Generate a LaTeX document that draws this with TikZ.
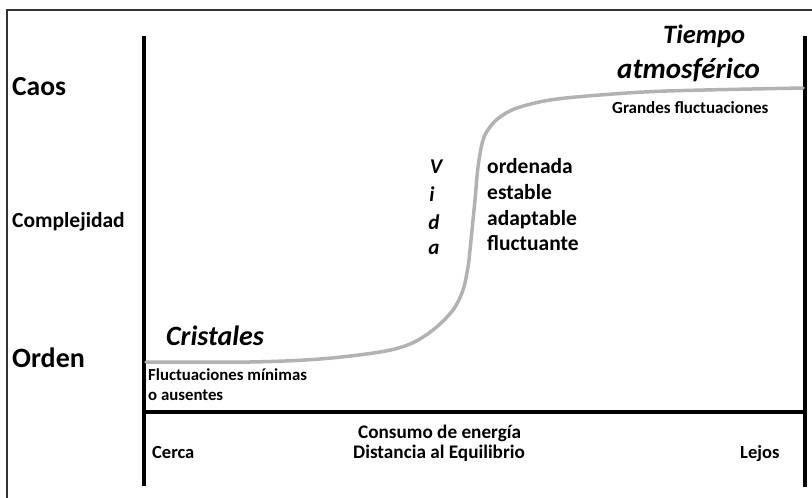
\documentclass[tikz,border=0pt]{standalone}
\usepackage{fontspec}
\setmainfont{Carlito}
\begin{document}
\begin{tikzpicture}[x=1pt,y=-1pt,
  lbl/.style={inner sep=0pt,anchor=base west,font=\bfseries\fontsize{#1}{#1}\selectfont},
  ilbl/.style={inner sep=0pt,anchor=base west,font=\bfseries\itshape\fontsize{#1}{#1}\selectfont},
  axis/.style={line width=4pt,black},
  frame/.style={line width=1.3pt,black!80},
  curve/.style={line width=3.5pt,black!30,line cap=round}]
\useasboundingbox (0,0) rectangle (812,498);
% frame
\coordinate (fbl) at (7,498);
\coordinate (ftl) at (7,10);
\coordinate (ftr) at (812,10);
\draw[frame] (fbl) -- (ftl) -- (ftr);
% axes
\coordinate (lt) at (144,36);
\coordinate (lb) at (144,486);
\coordinate (rt) at (805,36);
\coordinate (rb) at (805,487);
\coordinate (hl) at (142,412);
\coordinate (hr) at (807,412);
\draw[axis] (lt) -- (lb);
\draw[axis] (rt) -- (rb);
\draw[axis] (hl) -- (hr);
% curve
\draw[curve] plot[smooth,tension=0.55] coordinates {(146,362) (250,362) (320,359) (380,352) (410,344) (433,330) (453,310) (463,290) (468,267) (470,250) (475,200) (478,167) (483,140) (490,127) (500,117) (517,108) (550,100) (600,95) (667,91) (803,88)};
% left labels
\node[lbl=27.5] (caos) at (12,95) {Caos};
\node[lbl=21.5] (comp) at (12,227) {Complejidad};
\node[lbl=28] (orden) at (12,367) {Orden};
% curve labels
\node[ilbl=28] (crist) at (166,345) {Cristales};
\node[lbl=16.8] (fm1) at (148,380) {Fluctuaciones mínimas};
\node[lbl=16.8] (fm2) at (148,400) {o ausentes};
\node[ilbl=26.5] (tiempo) at (663,43) {Tiempo};
\node[ilbl=29] (atmos) at (617,78) {atmosférico};
\node[lbl=17] (grandes) at (612,113) {Grandes fluctuaciones};
% vida
\node[ilbl=21,anchor=base] (v1) at (436,173) {V};
\node[ilbl=21,anchor=base] (v2) at (432,201) {i};
\node[ilbl=21,anchor=base] (v3) at (434,229) {d};
\node[ilbl=21,anchor=base] (v4) at (434,254) {a};
\node[lbl=21.5] (o1) at (487,173) {ordenada};
\node[lbl=21.5] (o2) at (487,199) {estable};
\node[lbl=21.5] (o3) at (487,225) {adaptable};
\node[lbl=21.5] (o4) at (487,250) {fluctuante};
% bottom labels
\node[lbl=18.5] (cerca) at (152,458) {Cerca};
\node[lbl=19.2] (consumo) at (358,438) {Consumo de energía};
\node[lbl=19.2] (dist) at (353,458) {Distancia al Equilibrio};
\node[lbl=18.5] (lejos) at (740,458) {Lejos};
\end{tikzpicture}
\end{document}
